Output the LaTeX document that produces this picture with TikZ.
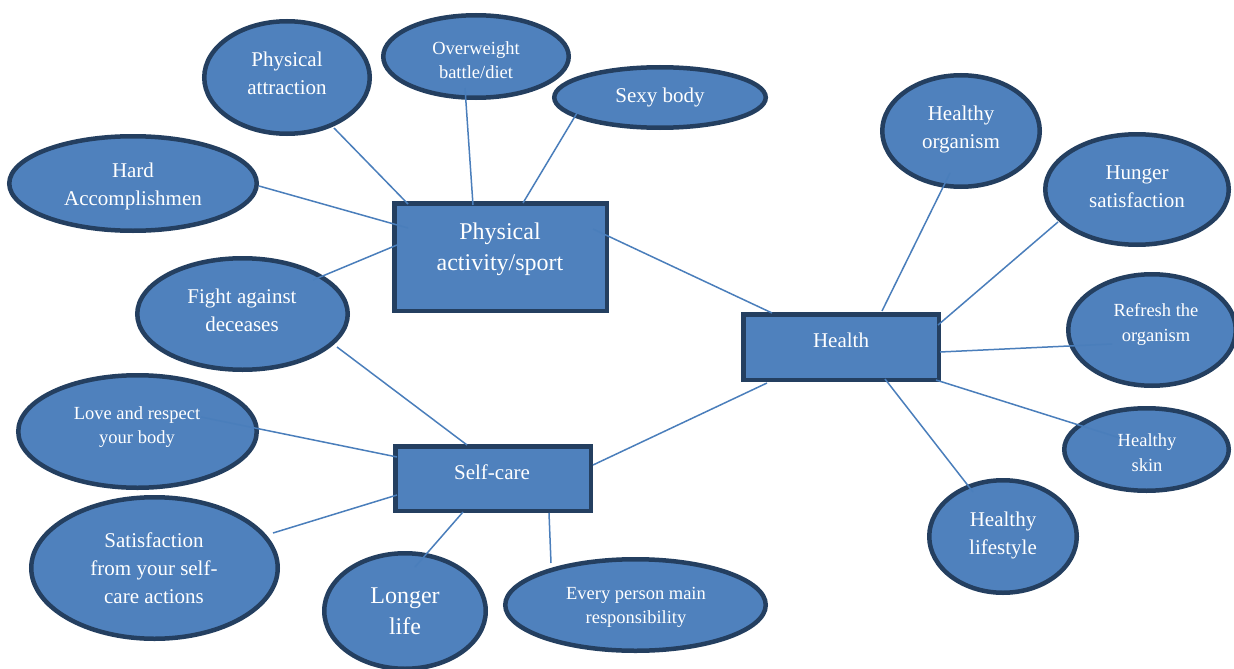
\documentclass[tikz,border=0pt]{standalone}
\usepackage{fontspec}
\setmainfont{Liberation Serif}
\newfontfamily\tnr{Liberation Serif}
\usetikzlibrary{shapes.geometric,calc}
\definecolor{fillblue}{HTML}{4F81BD}
\definecolor{navy}{HTML}{243F60}
\definecolor{linkblue}{HTML}{4A7EBB}
\tikzset{
  ell/.style={ellipse, draw=navy, line width=4.5pt, fill=fillblue, inner sep=0pt},
  box/.style={rectangle, draw=navy, line width=4.5pt, fill=fillblue, inner sep=0pt},
  lbl/.style={text=white, align=center, inner sep=0pt},
  fA/.style={font=\tnr\fontsize{21}{28}\selectfont},
  fB/.style={font=\tnr\fontsize{24}{31}\selectfont},
  fC/.style={font=\tnr\fontsize{18.5}{24.5}\selectfont},
  link/.style={draw=linkblue, line width=1.5pt}
}
\begin{document}
\begin{tikzpicture}[x=1pt,y=-1pt]
\clip (0,0) rectangle (1234,669);
\fill[white] (0,0) rectangle (1234,669);
% central boxes
\node[box, minimum width=212.5pt, minimum height=107.5pt] (pab) at (500.5,257) {};
\node[box, minimum width=195.5pt, minimum height=65.5pt] (health) at (841,347) {};
\node[box, minimum width=195.5pt, minimum height=64.5pt] (self) at (493,478.5) {};
% ellipses
\node[ell, minimum width=165.5pt, minimum height=112.5pt] (att) at (287,77.5) {};
\node[ell, minimum width=185.5pt, minimum height=82.5pt] (over) at (476,56.5) {};
\node[ell, minimum width=211.5pt, minimum height=60.5pt] (sexy) at (660,97.5) {};
\node[ell, minimum width=247.5pt, minimum height=94.5pt] (hard) at (133,183.5) {};
\node[ell, minimum width=210.5pt, minimum height=111.5pt] (fight) at (242.5,314) {};
\node[ell, minimum width=238.5pt, minimum height=112.5pt] (love) at (137.5,431.5) {};
\node[ell, minimum width=246.5pt, minimum height=141.5pt] (satis) at (154.5,568) {};
\node[ell, minimum width=161.5pt, minimum height=115.5pt] (longer) at (405,611) {};
\node[ell, minimum width=260.5pt, minimum height=91.5pt] (every) at (635.5,605) {};
\node[ell, minimum width=157.5pt, minimum height=111.5pt] (horg) at (961,131) {};
\node[ell, minimum width=183.5pt, minimum height=110.5pt] (hunger) at (1137,189.5) {};
\node[ell, minimum width=167.5pt, minimum height=111.5pt] (refresh) at (1152,330) {};
\node[ell, minimum width=164.5pt, minimum height=82.5pt] (skin) at (1146.5,449.5) {};
\node[ell, minimum width=147.5pt, minimum height=112.5pt] (life) at (1003,536.5) {};
% texts
\node[lbl, fB] (pab-t) at (500,249) {Physical\\activity/sport};
\node[lbl, fA] (health-t) at (841,340) {Health};
\node[lbl, fA] (self-t) at (492,472) {Self-care};
\node[lbl, fA] (att-t) at (287,73) {Physical\\attraction};
\node[lbl, fC] (over-t) at (476,60) {Overweight\\battle/diet};
\node[lbl, fA] (sexy-t) at (660,97.5) {Sexy body};
\node[lbl, fA] (hard-t) at (133,186.5) {Hard\\Accomplishmen};
\node[lbl, fA] (fight-t) at (242,310) {Fight against\\deceases};
\node[lbl, fC] (love-t) at (137,427) {Love and respect\\your body};
\node[lbl, fA] (satis-t) at (154,568.5) {Satisfaction\\from your self-\\care actions};
\node[lbl, fB] (longer-t) at (405,611.5) {Longer\\life};
\node[lbl, fC] (every-t) at (636,607.5) {Every person main\\responsibility};
\node[lbl, fA] (horg-t) at (961,129.5) {Healthy\\organism};
\node[lbl, fA] (hunger-t) at (1137,187) {Hunger\\satisfaction};
\node[lbl, fC] (refresh-t) at (1156,324.5) {Refresh the\\organism};
\node[lbl, fC] (skin-t) at (1147,452.5) {Healthy\\skin};
\node[lbl, fA] (life-t) at (1003,535.5) {Healthy\\lifestyle};
% connectors
\draw[link] ($(pab)+(-92.5,-53)$) -- ($(att)+(47,50.5)$);
\draw[link] ($(pab)+(-27.5,-52)$) -- ($(over)+(-11,31.5)$);
\draw[link] ($(pab)+(22.5,-54)$) -- ($(sexy)+(-83,15.5)$);
\draw[link] ($(pab)+(-92.5,-29)$) -- ($(hard)+(126,2.5)$);
\draw[link] ($(pab)+(-103.5,-12)$) -- ($(fight)+(70.5,-34)$);
\draw[link] ($(pab)+(92.5,-28)$) -- ($(health)+(-69,-34)$);
\draw[link] ($(self)+(-26,-33.5)$) -- ($(fight)+(94.5,33)$);
\draw[link] ($(self)+(-96,-21.5)$) -- ($(love)+(63.5,-14.5)$);
\draw[link] ($(self)+(-96,16.5)$) -- ($(satis)+(118.5,-35)$);
\draw[link] ($(self)+(-30,33.5)$) -- ($(longer)+(10,-44)$);
\draw[link] ($(self)+(56,34.5)$) -- ($(every)+(-84.5,-42)$);
\draw[link] ($(self)+(100,-13.5)$) -- ($(health)+(-74,36)$);
\draw[link] ($(health)+(41,-36)$) -- ($(horg)+(-11,42)$);
\draw[link] ($(health)+(97,-22)$) -- ($(hunger)+(-79,32.5)$);
\draw[link] ($(health)+(99,5)$) -- ($(refresh)+(-40,14)$);
\draw[link] ($(health)+(95,33)$) -- ($(skin)+(-26.5,-11.5)$);
\draw[link] ($(health)+(44,32)$) -- ($(life)+(-30,-44.5)$);
\end{tikzpicture}
\end{document}
